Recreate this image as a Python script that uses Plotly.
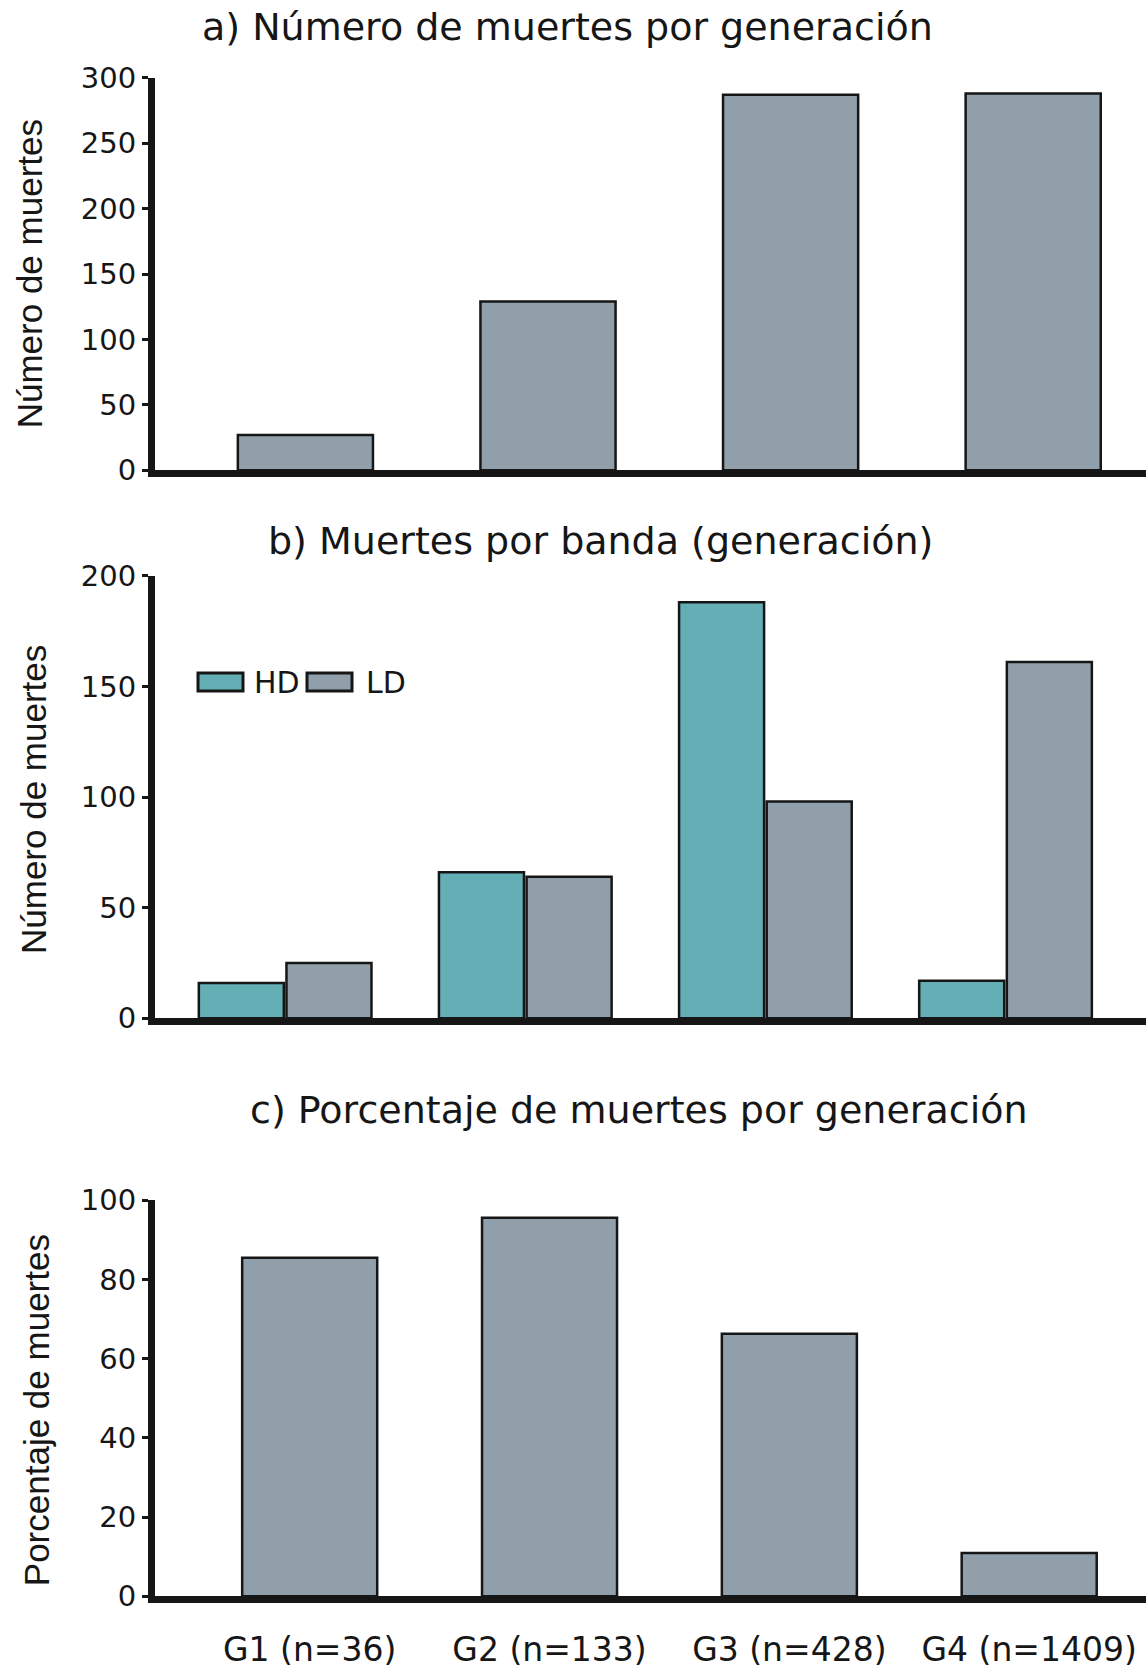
import plotly.graph_objects as go

# ---------------- data ----------------
categories = ["G1 (n=36)", "G2 (n=133)", "G3 (n=428)", "G4 (n=1409)"]
deaths_total = [27, 129, 287, 288]          # a) Número de muertes por generación
deaths_hd = [16, 66, 188, 17]               # b) HD
deaths_ld = [25, 64, 98, 161]               # b) LD
pct_deaths = [85.5, 95.6, 66.3, 10.9]       # c) Porcentaje de muertes

ticks_a = [0, 50, 100, 150, 200, 250, 300]
ticks_b = [0, 50, 100, 150, 200]
ticks_c = [0, 20, 40, 60, 80, 100]

# ---------------- styling ----------------
W, H = 1146, 1668
GRAY = "#909fa9"
TEAL = "#63afb5"
INK = "#161616"
TICKFONT = dict(family="DejaVu Sans", size=29, color=INK)
TITLEFONT = dict(family="DejaVu Sans", size=38, color=INK)
YTITLEFONT = dict(family="Liberation Sans", size=35, color=INK)


def px_x(x):
    return x / W


def px_y(y):
    return 1 - y / H


fig = go.Figure()

fig.add_trace(go.Bar(x=categories, y=deaths_total, width=0.557,
                     marker=dict(color=GRAY, line=dict(color=INK, width=2.5)),
                     xaxis="x", yaxis="y", showlegend=False, name="Total"))
fig.add_trace(go.Bar(x=categories, y=deaths_hd,
                     marker=dict(color=TEAL, line=dict(color=INK, width=2.5)),
                     xaxis="x2", yaxis="y2", showlegend=False, name="HD"))
fig.add_trace(go.Bar(x=categories, y=deaths_ld,
                     marker=dict(color=GRAY, line=dict(color=INK, width=2.5)),
                     xaxis="x2", yaxis="y2", showlegend=False, name="LD"))
fig.add_trace(go.Bar(x=categories, y=pct_deaths, width=0.563,
                     marker=dict(color=GRAY, line=dict(color=INK, width=2.5)),
                     xaxis="x3", yaxis="y3", showlegend=False, name="%"))

xdom = [px_x(155), 1.0]


def xax(rng, anchor, show_labels):
    return dict(domain=xdom, anchor=anchor, type="category",
                categoryorder="array", categoryarray=categories,
                range=rng, showline=True, linewidth=7, linecolor=INK,
                showgrid=False, zeroline=False, ticks="", ticklen=0,
                showticklabels=show_labels,
                tickfont=dict(family="DejaVu Sans", size=33, color=INK),
                ticklabelstandoff=18, automargin=False, fixedrange=True)


def yax(dom, rng, tv, anchor):
    return dict(domain=dom, anchor=anchor, range=rng, tickvals=tv,
                showline=True, linewidth=7, linecolor=INK,
                showgrid=False, zeroline=False, ticks="outside",
                ticklen=6, tickwidth=3, tickcolor=INK,
                tickfont=TICKFONT, ticklabelstandoff=0,
                automargin=False, fixedrange=True)


fig.update_layout(
    width=W, height=H,
    margin=dict(l=0, r=0, t=0, b=0),
    paper_bgcolor="white", plot_bgcolor="white",
    barmode="group", bargap=0.27, bargroupgap=0.03,
    showlegend=False,
    xaxis=xax([-0.62, 3.465], "y", False),
    yaxis=yax([px_y(470.3), px_y(77.7)], [0, 300], ticks_a, "x"),
    xaxis2=xax([-0.542, 3.585], "y2", False),
    yaxis2=yax([px_y(1018.3), px_y(575.7)], [0, 200], ticks_b, "x2"),
    xaxis3=xax([-0.645, 3.487], "y3", True),
    yaxis3=yax([px_y(1596.2), px_y(1200.3)], [0, 100], ticks_c, "x3"),
)

annotations = [
    dict(text="a) Número de muertes por generación", x=px_x(567.7), y=px_y(26.6), font=TITLEFONT),
    dict(text="b) Muertes por banda (generación)", x=px_x(600.7), y=px_y(540.6), font=TITLEFONT),
    dict(text="c) Porcentaje de muertes por generación", x=px_x(639.5), y=px_y(1109.9), font=TITLEFONT),
    dict(text="Número de muertes", x=px_x(30.3), y=px_y(274), textangle=-90, font=YTITLEFONT),
    dict(text="Número de muertes", x=px_x(33), y=px_y(800), textangle=-90, font=YTITLEFONT),
    dict(text="Porcentaje de muertes", x=px_x(36.2), y=px_y(1410), textangle=-90, font=YTITLEFONT),
]
for a in annotations:
    a.update(xref="paper", yref="paper", showarrow=False, xanchor="center", yanchor="middle")

legend_font = dict(family="DejaVu Sans", size=30, color=INK)
annotations += [
    dict(text="HD", x=px_x(252), y=px_y(682), xref="paper", yref="paper", showarrow=False,
         xanchor="left", yanchor="middle", font=legend_font),
    dict(text="LD", x=px_x(364), y=px_y(682), xref="paper", yref="paper", showarrow=False,
         xanchor="left", yanchor="middle", font=legend_font),
]
fig.update_layout(annotations=annotations)

shapes = [
    dict(type="rect", xref="paper", yref="paper", x0=px_x(198), x1=px_x(243),
         y0=px_y(691), y1=px_y(673), fillcolor=TEAL, line=dict(color=INK, width=3)),
    dict(type="rect", xref="paper", yref="paper", x0=px_x(307), x1=px_x(352),
         y0=px_y(691), y1=px_y(673), fillcolor=GRAY, line=dict(color=INK, width=3)),
]
fig.update_layout(shapes=shapes)

# remove the browser's default page margin so the figure starts at the window corner
fig.write_html("out.html", config={"displayModeBar": False},
               post_script="document.body.style.margin='0';")
